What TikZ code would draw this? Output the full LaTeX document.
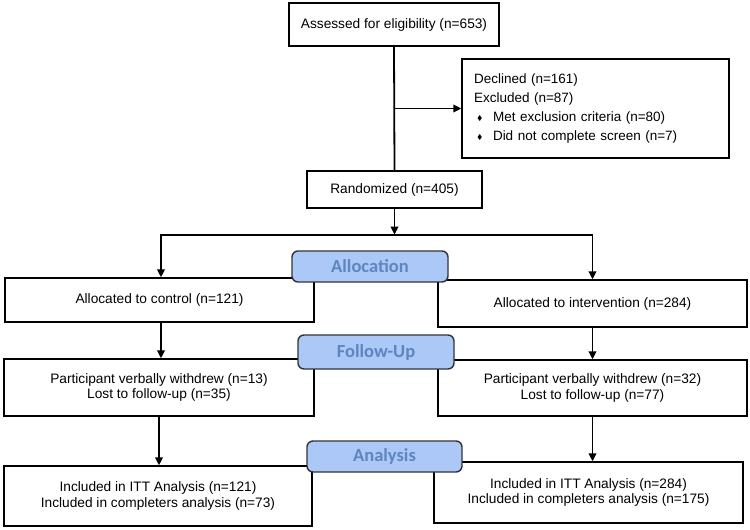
\documentclass[tikz,border=0pt]{standalone}
\usepackage{amssymb}
\usepackage{fontspec}
\setmainfont{Liberation Sans}
\newfontfamily\stagefont{Carlito}
\usepackage{tikz}
\usetikzlibrary{positioning}
\usetikzlibrary{shapes,arrows,calc,arrows.meta}

\definecolor{stagefill}{HTML}{ABC8F7}
\definecolor{stagetext}{HTML}{5F85C0}

\newcommand{\dbullet}{\makebox[19pt][l]{\hspace{3pt}\raisebox{1pt}{\fontsize{7}{7}\selectfont$\blacklozenge$}}}

\begin{document}
\begin{tikzpicture}[x=1pt, y=-1pt,
    box/.style={draw, rectangle, line width=1.3pt, align=center, inner sep=0pt,
      font=\fontsize{13.7}{15.7}\selectfont},
    stage/.style={draw=black!80, rectangle, rounded corners=6pt, line width=1.4pt,
      fill=stagefill, text=stagetext, inner sep=0pt,
      minimum width=156pt, font=\stagefont\bfseries\fontsize{18.5}{20}\selectfont},
    link/.style={line width=1.8pt},
    arr/.style={line width=1.8pt, -{Triangle[length=8pt,width=7.5pt]}}]
  \useasboundingbox (0,0) rectangle (750,530);

  % Nodes
  \node [box, minimum width=210pt, minimum height=43pt] (assess) at (394,24.5) {Assessed for eligibility (n=653)};
  \node [box, minimum width=267pt, minimum height=99pt, align=left, text width=243pt,
    font=\fontsize{13.5}{19}\selectfont] (excl) at (595.5,108.5)
    {Declined (n=161)\\
     Excluded (n=87)\\
     \dbullet Met exclusion criteria (n=80)\\
     \dbullet Did not complete screen (n=7)};
  \node [box, minimum width=175pt, minimum height=37pt] (rand) at (394.5,189.5) {Randomized (n=405)};

  \node [box, minimum width=309pt, minimum height=44pt] (ctrl) at (159.5,300) {Allocated to control (n=121)};
  \node [box, minimum width=309pt, minimum height=47pt] (intv) at (592.5,303.5) {Allocated to intervention (n=284)};

  \node [box, minimum width=310pt, minimum height=57pt] (fuctrl) at (159,387.5)
    {Participant verbally withdrew (n=13)\\ Lost to follow-up (n=35)};
  \node [box, minimum width=309pt, minimum height=56pt] (fuintv) at (592.5,388)
    {Participant verbally withdrew (n=32)\\ Lost to follow-up (n=77)};

  \node [box, minimum width=308pt, minimum height=60pt] (anctrl) at (158,496)
    {Included in ITT Analysis (n=121)\\ Included in completers analysis (n=73)};
  \node [box, minimum width=309pt, minimum height=61pt] (anintv) at (588.5,492.5)
    {Included in ITT Analysis (n=284)\\ Included in completers analysis (n=175)};

  % Stage labels
  \node [stage, minimum height=31pt] (alloc) at (370,266.5) {Allocation};
  \node [stage, minimum height=34pt] (follow) at (376,352) {Follow-Up};
  \node [stage, minimum height=31pt, minimum width=155pt] (analysis) at (384.5,456.5) {Analysis};

  % Arrows
  \coordinate (split) at (assess.south |- excl.west);
  \coordinate (junction) at ($(rand.south)+(0,26)$);
  \draw [link] (assess.south) -- (rand.north);
  \draw [arr] (split) -- (excl.west);
  \draw [arr] (rand.south) -- (junction);
  \draw [arr] (junction) -| ($(ctrl.north)+(1.5,0)$);
  \draw [arr] (junction) -| (intv.north);
  \draw [arr] ($(ctrl.south)+(1.5,0)$) -- ($(fuctrl.north)+(2,0)$);
  \draw [arr] (intv.south) -- (intv.south |- fuintv.north);
  \draw [arr] (fuctrl.south) -- (fuctrl.south |- anctrl.north);
  \draw [arr] (fuintv.south) -- (fuintv.south |- anintv.north);
\end{tikzpicture}
\end{document}
